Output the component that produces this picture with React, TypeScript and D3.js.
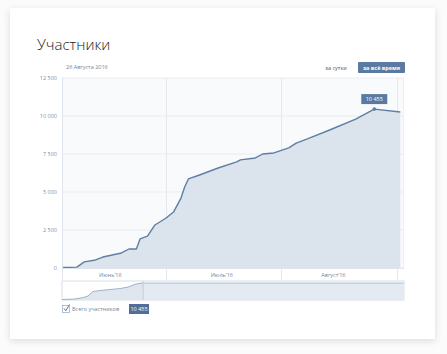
import React from 'react'
import * as d3 from 'd3'

// main series: members count by date
const DATES = [
  '2016-06-03', '2016-06-07', '2016-06-09', '2016-06-12', '2016-06-14', '2016-06-19',
  '2016-06-21', '2016-06-23', '2016-06-24', '2016-06-26', '2016-06-28', '2016-07-01',
  '2016-07-03', '2016-07-05', '2016-07-06', '2016-07-07', '2016-07-10', '2016-07-15',
  '2016-07-20', '2016-07-21', '2016-07-25', '2016-07-27', '2016-07-30', '2016-08-03',
  '2016-08-05', '2016-08-08', '2016-08-14', '2016-08-21', '2016-08-26', '2016-09-02',
]
const VALUES = [
  30, 60, 400, 530, 720, 990,
  1250, 1250, 1910, 2100, 2830, 3290,
  3680, 4600, 5330, 5860, 6120, 6580,
  6980, 7110, 7240, 7500, 7570, 7900,
  8220, 8490, 9080, 9800, 10455, 10260,
]

// navigator mini chart (position in % of full range, value)
const NAV_POS = [0, 3.8, 6.2, 7.6, 9.1, 11.1, 14.1, 17, 19.4, 21.7, 23.8, 100]
const NAV_VALUES = [300, 600, 1500, 2440, 5200, 5800, 6400, 7000, 7900, 9800, 10400, 10455]
const NAV_WINDOW_START = 23.8

const Y_TICKS = [0, 2500, 5000, 7500, 10000, 12500]
const MONTH_STARTS = ['2016-07-01', '2016-08-01', '2016-09-01']
const MONTH_LABELS = [
  { date: '2016-06-16', label: 'Июнь\u201916' },
  { date: '2016-07-16', label: 'Июль\u201916' },
  { date: '2016-08-15', label: 'Август\u201916' },
]
const HOVER_INDEX = 28

const FONT = '"Open Sans", "DejaVu Sans", sans-serif'
const fmt = (v: number) => d3.format(',')(v).replace(/,/g, ' ')

export default function App() {
  const W = 447
  const H = 354
  const plot = { left: 62, right: 404, top: 78, bottom: 268 }
  const parse = d3.timeParse('%Y-%m-%d')
  const data = DATES.map((d, i) => ({ date: parse(d) as Date, value: VALUES[i] }))

  const x = d3.scaleTime()
    .domain([parse('2016-06-03') as Date, parse('2016-09-03') as Date])
    .range([plot.left, plot.right])
  const y = d3.scaleLinear().domain([0, 12500]).range([plot.bottom, plot.top])

  const line = d3.line<{ date: Date; value: number }>()
    .x((d) => x(d.date)).y((d) => y(d.value))
  const area = d3.area<{ date: Date; value: number }>()
    .x((d) => x(d.date)).y0(plot.bottom).y1((d) => y(d.value))

  // navigator
  const nav = { top: 281, bottom: 300 }
  const nx = d3.scaleLinear().domain([0, 100]).range([plot.left, plot.right - 1])
  const ny = d3.scaleLinear().domain([0, 11000]).range([nav.bottom, nav.top + 1])
  const navData = NAV_POS.map((p, i) => ({ p, v: NAV_VALUES[i] }))
  const navLine = d3.line<{ p: number; v: number }>().x((d) => nx(d.p)).y((d) => ny(d.v))
  const navArea = d3.area<{ p: number; v: number }>().x((d) => nx(d.p)).y0(nav.bottom).y1((d) => ny(d.v))

  const hover = data[HOVER_INDEX]
  const hx = x(hover.date)
  const hy = y(hover.value)

  return (
    <div style={{ position: 'fixed', left: 0, top: 0 }}>
      <svg width={W} height={H} style={{ display: 'block', fontFamily: FONT }}>
        <defs>
          <filter id="sh" x="-10%" y="-10%" width="120%" height="125%">
            <feDropShadow dx="0" dy="2" stdDeviation="3.5" floodColor="#000" floodOpacity="0.12" />
          </filter>
          <clipPath id="pc">
            <rect x={plot.left} y={plot.top - 20} width={plot.right - plot.left} height={plot.bottom - plot.top + 20} />
          </clipPath>
        </defs>
        <rect x={0} y={0} width={W} height={H} fill="#fbfbfb" />
        <rect x={10} y={8} width={425} height={331} fill="#fff" filter="url(#sh)" />

        <text x={37} y={50} fontSize={15} fill="#222" fontWeight={300}>Участники</text>

        <text x={66} y={69} fontSize={5.5} fill="#6f86a3">26 Августа 2016</text>
        <text x={336} y={69.5} fontSize={5.5} fill="#3f5878" textAnchor="middle">за сутки</text>
        <rect x={358} y={62} width={47} height={11} rx={1} fill="#5b7aa2" />
        <text x={381.5} y={69.5} fontSize={5.5} fill="#fff" fontWeight={700} textAnchor="middle">за всё время</text>

        {/* plot background */}
        <rect x={plot.left} y={plot.top} width={plot.right - plot.left} height={plot.bottom - plot.top} fill="#f9fafb" />
        {Y_TICKS.map((t) => (
          <g key={t}>
            <line x1={plot.left} x2={plot.right} y1={y(t)} y2={y(t)} stroke="#e9edf1" strokeWidth={1} />
            <text x={57} y={y(t) + 2} fontSize={5.5} fill="#7d91a9" textAnchor="end">{fmt(t)}</text>
          </g>
        ))}
        {MONTH_STARTS.map((m) => {
          const mx = Math.round(x(parse(m) as Date)) + 0.5
          return <line key={m} x1={mx} x2={mx} y1={plot.top} y2={nav.top - 1} stroke="#e3e8ee" strokeWidth={1} />
        })}

        <path d={area(data) || ''} fill="#dbe3ec" clipPath="url(#pc)" />
        <path d={line(data) || ''} fill="none" stroke="#5f7ea6" strokeWidth={1.4} strokeLinejoin="round" clipPath="url(#pc)" />

        <line x1={plot.left + 0.5} x2={plot.left + 0.5} y1={plot.top} y2={nav.top - 1} stroke="#dfe5ec" />
        <line x1={plot.right - 0.5} x2={plot.right - 0.5} y1={plot.top} y2={plot.bottom} stroke="#eef1f4" />
        <line x1={plot.left} x2={plot.right} y1={plot.bottom + 0.5} y2={plot.bottom + 0.5} stroke="#dfe5ec" />

        {MONTH_LABELS.map((m) => (
          <text key={m.label} x={x(parse(m.date) as Date)} y={277} fontSize={5.5} fill="#6f86a3" textAnchor="middle">{m.label}</text>
        ))}

        {/* hover marker + tooltip */}
        <circle cx={hx} cy={hy} r={1.8} fill="#5f7ea6" />
        <rect x={hx - 13} y={hy - 15} width={26} height={10} fill="#5b7aa2" />
        <text x={hx} y={hy - 8} fontSize={5.5} fill="#fff" textAnchor="middle">{fmt(hover.value)}</text>

        {/* navigator */}
        <rect x={plot.left} y={nav.top} width={plot.right - plot.left} height={nav.bottom - nav.top} fill="#fff" stroke="#d8e0e9" strokeWidth={1} />
        <path d={navArea(navData) || ''} fill="#dfe6ee" />
        <path d={navLine(navData) || ''} fill="none" stroke="#8aa1bf" strokeWidth={0.8} />
        <rect x={nx(NAV_WINDOW_START)} y={nav.top + 0.5} width={plot.right - nx(NAV_WINDOW_START) - 0.5} height={nav.bottom - nav.top - 1} fill="#e4eaf1" opacity={0.85} />
        <line x1={nx(NAV_WINDOW_START)} x2={plot.right} y1={ny(10455) + 0.5} y2={ny(10455) + 0.5} stroke="#b9c7d8" strokeWidth={0.8} />
        <line x1={nx(NAV_WINDOW_START)} x2={nx(NAV_WINDOW_START)} y1={nav.top} y2={nav.bottom} stroke="#c3cfdd" strokeWidth={1} />

        {/* legend */}
        <rect x={62.5} y={305.5} width={7} height={7} fill="#fff" stroke="#9fb2c8" strokeWidth={0.8} />
        <path d="M64 308.5 L65.8 310.8 L69.5 304.5" fill="none" stroke="#5b7aa2" strokeWidth={1} />
        <text x={72} y={311} fontSize={5.5} fill="#6f86a3">Всего участников</text>
        <rect x={129} y={304} width={20} height={10} fill="#4f6f99" />
        <text x={139} y={311} fontSize={5.5} fill="#fff" textAnchor="middle">{fmt(VALUES[HOVER_INDEX])}</text>
      </svg>
    </div>
  )
}
